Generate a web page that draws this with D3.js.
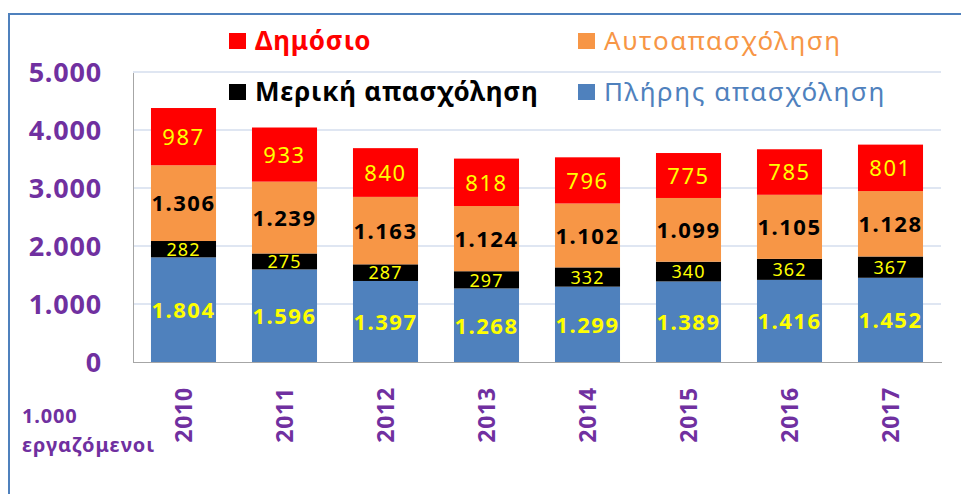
<!DOCTYPE html>
<head>
  <meta charset="utf-8">
  <style>
    body {margin: 0; background: #fff; font-family: "Noto Sans", "Open Sans", sans-serif;}
    .grid line {stroke: #dfe6f2; stroke-width: 1.5; shape-rendering: crispEdges;}
    .axis path, .axis line {stroke: #a6a6a6; stroke-width: 1.5; fill: none; shape-rendering: crispEdges;}
  </style>
  <title>Εργαζόμενοι</title>
</head>
<body>
  <svg width="961" height="494"></svg>
  <script src="https://d3js.org/d3.v7.min.js"></script>
  <script>
    // data (thousands of workers)
    var years = ["2010", "2011", "2012", "2013", "2014", "2015", "2016", "2017"];
    var fullTime = [1804, 1596, 1397, 1268, 1299, 1389, 1416, 1452];
    var partTime = [282, 275, 287, 297, 332, 340, 362, 367];
    var selfEmployed = [1306, 1239, 1163, 1124, 1102, 1099, 1105, 1128];
    var publicSector = [987, 933, 840, 818, 796, 775, 785, 801];
    var yTicks = [0, 1000, 2000, 3000, 4000, 5000];

    var seriesNames = ["Πλήρης απασχόληση", "Μερική απασχόληση", "Αυτοαπασχόληση", "Δημόσιο"];
    var seriesColors = ["#4f81bd", "#000000", "#f79646", "#ff0000"];
    var labelColors = ["#ffff00", "#ffff00", "#000000", "#ffff00"];
    var labelSizes = [22, 18, 22, 22];
    var labelWeights = ["bold", "normal", "bold", "normal"];

    var svg = d3.select("svg");
    var margin = {top: 72, left: 133, right: 20, bottom: 131};
    var width = 941 - margin.left, height = 362 - margin.top;

    // outer frame
    svg.append("path")
        .attr("d", "M9,494 L9,14 L961,14")
        .attr("fill", "none")
        .attr("stroke", "#4f81bd")
        .attr("stroke-width", 2);

    var g = svg.append("g").attr("transform", "translate(" + margin.left + "," + margin.top + ")");

    var x = d3.scaleBand().domain(years).range([0, width]).paddingInner(0.356).paddingOuter(0.178);
    var y = d3.scaleLinear().domain([0, 5000]).range([height, 0]);

    // gridlines
    g.append("g")
        .attr("class", "grid")
        .selectAll("line")
        .data(yTicks.slice(1))
        .enter().append("line")
          .attr("x1", 0).attr("x2", width)
          .attr("y1", function(d) { return y(d); })
          .attr("y2", function(d) { return y(d); });

    // stacked data
    var table = years.map(function(yr, i) {
      return {year: yr, s0: fullTime[i], s1: partTime[i], s2: selfEmployed[i], s3: publicSector[i]};
    });
    var stack = d3.stack().keys(["s0", "s1", "s2", "s3"])(table);

    var layer = g.selectAll(".layer")
        .data(stack)
        .enter().append("g")
          .attr("class", "layer")
          .attr("fill", function(d, i) { return seriesColors[i]; });

    layer.selectAll("rect")
        .data(function(d) { return d; })
        .enter().append("rect")
          .attr("x", function(d) { return x(d.data.year); })
          .attr("y", function(d) { return y(d[1]); })
          .attr("width", x.bandwidth())
          .attr("height", function(d) { return y(d[0]) - y(d[1]); });

    // value labels
    var fmt = d3.formatLocale({decimal: ",", thousands: ".", grouping: [3], currency: ["", "€"]}).format(",d");
    stack.forEach(function(s, i) {
      g.append("g").selectAll("text")
        .data(s)
        .enter().append("text")
          .attr("x", function(d) { return x(d.data.year) + x.bandwidth() / 2; })
          .attr("y", function(d) { return y((d[0] + d[1]) / 2); })
          .attr("dy", "0.38em")
          .attr("text-anchor", "middle")
          .attr("fill", labelColors[i])
          .attr("font-size", labelSizes[i])
          .attr("font-weight", labelWeights[i])
          .attr("letter-spacing", i == 1 ? 1 : 1.5)
          .text(function(d) { return fmt(d[1] - d[0]); });
    });

    // axes
    g.append("g")
        .attr("class", "axis")
        .call(d3.axisLeft(y).tickValues([]).tickSizeOuter(0));
    g.append("g")
        .attr("class", "axis")
        .attr("transform", "translate(0," + height + ")")
        .call(d3.axisBottom(x).tickValues([]).tickSizeOuter(0));

    // y tick labels
    g.append("g").selectAll("text")
        .data(yTicks)
        .enter().append("text")
          .attr("x", -31)
          .attr("y", function(d) { return y(d); })
          .attr("dy", "0.36em")
          .attr("text-anchor", "end")
          .attr("fill", "#7030a0")
          .attr("font-size", 27)
          .attr("font-weight", "bold")
          .attr("letter-spacing", 0.8)
          .text(function(d) { return fmt(d); });

    // x labels (rotated)
    g.append("g").selectAll("text")
        .data(years)
        .enter().append("text")
          .attr("transform", function(d) {
            return "translate(" + (x(d) + x.bandwidth() / 2) + "," + (height + 25) + ") rotate(-90)";
          })
          .attr("dy", "0.36em")
          .attr("text-anchor", "end")
          .attr("fill", "#7030a0")
          .attr("font-size", 23)
          .attr("font-weight", "bold")
          .attr("letter-spacing", 0.8)
          .text(function(d) { return d; });

    // unit note
    svg.append("text").attr("x", 22).attr("y", 423)
        .attr("fill", "#7030a0").attr("font-size", 20).attr("font-weight", "bold")
        .attr("letter-spacing", 0.8).text("1.000");
    svg.append("text").attr("x", 22).attr("y", 452)
        .attr("fill", "#7030a0").attr("font-size", 20).attr("font-weight", "bold")
        .attr("letter-spacing", 1).text("εργαζόμενοι");

    // legend
    var legendItems = [
      {i: 3, x: 229, y: 41, weight: "bold"},
      {i: 2, x: 578, y: 41, weight: "normal"},
      {i: 1, x: 229, y: 92, weight: "bold"},
      {i: 0, x: 578, y: 92, weight: "normal"}
    ];
    var legend = svg.append("g").selectAll("g")
        .data(legendItems)
        .enter().append("g")
          .attr("transform", function(d) { return "translate(" + d.x + "," + d.y + ")"; });
    legend.append("rect")
        .attr("x", 0).attr("y", -8)
        .attr("width", 17).attr("height", 16)
        .attr("fill", function(d) { return seriesColors[d.i]; });
    legend.append("text")
        .attr("x", 26)
        .attr("dy", "0.36em")
        .attr("font-size", 26)
        .attr("font-weight", function(d) { return d.weight; })
        .attr("letter-spacing", function(d) { return d.weight == "bold" ? 0.8 : 1.6; })
        .attr("fill", function(d) { return seriesColors[d.i]; })
        .text(function(d) { return seriesNames[d.i]; });
  </script>
</body>
